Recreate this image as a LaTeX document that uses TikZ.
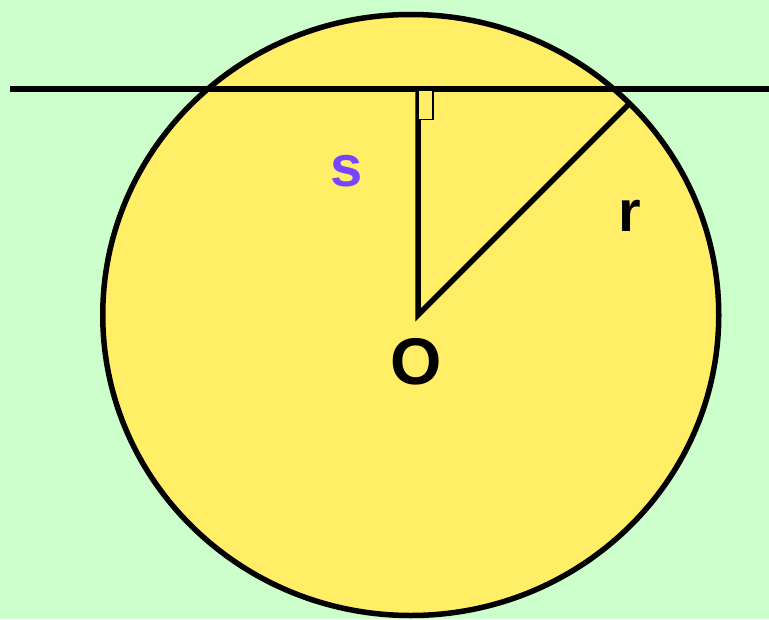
\documentclass[tikz,border=0pt]{standalone}
\usepackage{fontspec}
\setmainfont{Liberation Sans}
\usetikzlibrary{positioning}
\definecolor{bggreen}{RGB}{204,255,204}
\definecolor{discyellow}{RGB}{255,238,102}
\definecolor{spurple}{RGB}{119,68,255}

\begin{document}
\begin{tikzpicture}[
    x=1pt, y=-1pt,
    every node/.style={inner sep=0pt},
    lbl/.style={font=\fontsize{58}{60}\selectfont\bfseries},
    biglbl/.style={font=\fontsize{66}{68}\selectfont\bfseries},
    thickline/.style={line width=5.5pt, black},
    rightbox/.style={draw, line width=1.3pt, fill=discyellow}
]

% ════════════════════════════════════════
% BACKGROUND
% ════════════════════════════════════════
\useasboundingbox (0, 0) rectangle (769, 619);
\fill[bggreen] (0, 0) rectangle (769, 619);

% ── disc ──
\draw[thickline, fill=discyellow] (410.75, 315) ellipse [x radius=308, y radius=300.5];

% ════════════════════════════════════════
% POINTS
% ════════════════════════════════════════
\coordinate (ctr)  at (418, 315);
\coordinate (foot) at (418, 89);
\coordinate (rim)  at (630, 103);
\coordinate (tl)   at (10, 89);
\coordinate (tr)   at (769, 89);

% ── tangent line, distance and radius ──
\draw[thickline] (tl) -- (tr);
\draw[thickline, line join=miter] (foot) -- (ctr) -- (rim);
\draw[rightbox] (418, 90) rectangle (433, 119.5);

% ════════════════════════════════════════
% LABELS
% ════════════════════════════════════════
\node[lbl, text=spurple] (slbl) at (347, 171) {s};
\node[lbl]               (rlbl) at (630, 216) {r};
\node[biglbl]            (olbl) at (416, 362) {O};

\end{tikzpicture}
\end{document}
